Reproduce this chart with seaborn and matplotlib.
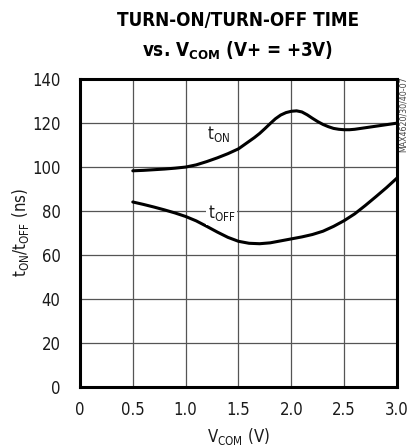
import matplotlib
matplotlib.use("Agg")
import matplotlib.pyplot as plt
import seaborn as sns
import pandas as pd

# values (V+ = +3V)
v_on = [0.5, 0.6, 0.7, 0.8, 0.9, 1.0, 1.1, 1.2, 1.3, 1.4, 1.5, 1.55, 1.6,
        1.65, 1.7, 1.75, 1.8, 1.85, 1.9, 1.95, 2.0, 2.05, 2.1, 2.15, 2.2,
        2.25, 2.3, 2.35, 2.4, 2.45, 2.5, 2.55, 2.6, 2.7, 2.8, 2.9, 3.0]
t_on = [98.3, 98.5, 98.8, 99.1, 99.5, 100.0, 101.0, 102.5, 104.2, 106.1, 108.3,
        110.0, 111.7, 113.4, 115.3, 117.5, 119.8, 122.0, 123.7, 124.8, 125.4,
        125.6, 125.1, 123.8, 122.2, 120.7, 119.4, 118.4, 117.6, 117.2, 117.0,
        117.0, 117.2, 117.9, 118.6, 119.3, 120.0]

v_off = [0.5, 0.6, 0.7, 0.8, 0.9, 1.0, 1.1, 1.2, 1.3, 1.4, 1.5, 1.6, 1.7,
         1.8, 1.9, 2.0, 2.1, 2.2, 2.3, 2.4, 2.5, 2.6, 2.7, 2.8, 2.9, 3.0]
t_off = [84.1, 83.0, 81.8, 80.5, 79.1, 77.5, 75.5, 73.0, 70.4, 68.0, 66.2,
         65.3, 65.1, 65.5, 66.4, 67.3, 68.2, 69.3, 70.8, 73.0, 75.6, 78.7,
         82.5, 86.5, 90.6, 95.0]

x_ticks = [0, 0.5, 1.0, 1.5, 2.0, 2.5, 3.0]
x_labels = ["0", "0.5", "1.0", "1.5", "2.0", "2.5", "3.0"]
y_ticks = [0, 20, 40, 60, 80, 100, 120, 140]

on_df = pd.DataFrame({"vcom": v_on, "t": t_on})
off_df = pd.DataFrame({"vcom": v_off, "t": t_off})

sns.set_style("white")
plt.rcParams["font.family"] = ["DejaVu Sans"]
plt.rcParams["font.stretch"] = "condensed"
plt.rcParams["mathtext.fontset"] = "custom"
plt.rcParams["mathtext.rm"] = "DejaVu Sans:stretch=condensed"
plt.rcParams["mathtext.it"] = "DejaVu Sans:stretch=condensed"
plt.rcParams["mathtext.bf"] = "DejaVu Sans:stretch=condensed:weight=bold"
txt = "#1a1a1a"

fig = plt.figure(figsize=(4.08, 4.45), dpi=100)
ax = fig.add_axes([0.196, 0.131, 0.777, 0.691])

sns.lineplot(data=on_df, x="vcom", y="t", ax=ax, color="black", linewidth=2.2)
sns.lineplot(data=off_df, x="vcom", y="t", ax=ax, color="black", linewidth=2.2)

ax.set_xlim(0, 3.0)
ax.set_ylim(0, 140)
ax.set_xticks(x_ticks)
ax.set_xticklabels(x_labels)
ax.set_yticks(y_ticks)
ax.tick_params(axis="both", length=0, labelsize=12, colors=txt)
ax.tick_params(axis="x", pad=10)
ax.tick_params(axis="y", pad=14)
ax.grid(True, color="#555555", linewidth=0.9)
ax.set_axisbelow(True)
for s in ax.spines.values():
    s.set_linewidth(2.2)
    s.set_color("black")

ax.set_xlabel(r"V$_{\mathrm{COM}}$ (V)", fontsize=12, color=txt, labelpad=5)
ax.set_ylabel(r"t$_{\mathrm{ON}}$/t$_{\mathrm{OFF}}$ (ns)", fontsize=12,
              color=txt, labelpad=1)

ax.text(1.2, 115, r"t$_{\mathrm{ON}}$", fontsize=12, color=txt,
        va="center", ha="left")
ax.text(1.21, 79, r"t$_{\mathrm{OFF}}$", fontsize=12, color=txt,
        va="center", ha="left",
        bbox=dict(facecolor="white", edgecolor="none", pad=1))

fig.text(0.583, 0.955, "TURN-ON/TURN-OFF TIME", ha="center", va="center",
         fontsize=13.5, fontweight="bold", color="black")
fig.text(0.583, 0.885, r"vs. V$_{\mathbf{COM}}$ (V+ = +3V)", ha="center",
         va="center", fontsize=13.5, fontweight="bold", color="black")
fig.text(0.988, 0.829, "MAX4620/30/40-07", rotation=90, ha="center", va="top",
         fontsize=6.3, color="#444444")

fig.savefig("out.png", dpi=100)
